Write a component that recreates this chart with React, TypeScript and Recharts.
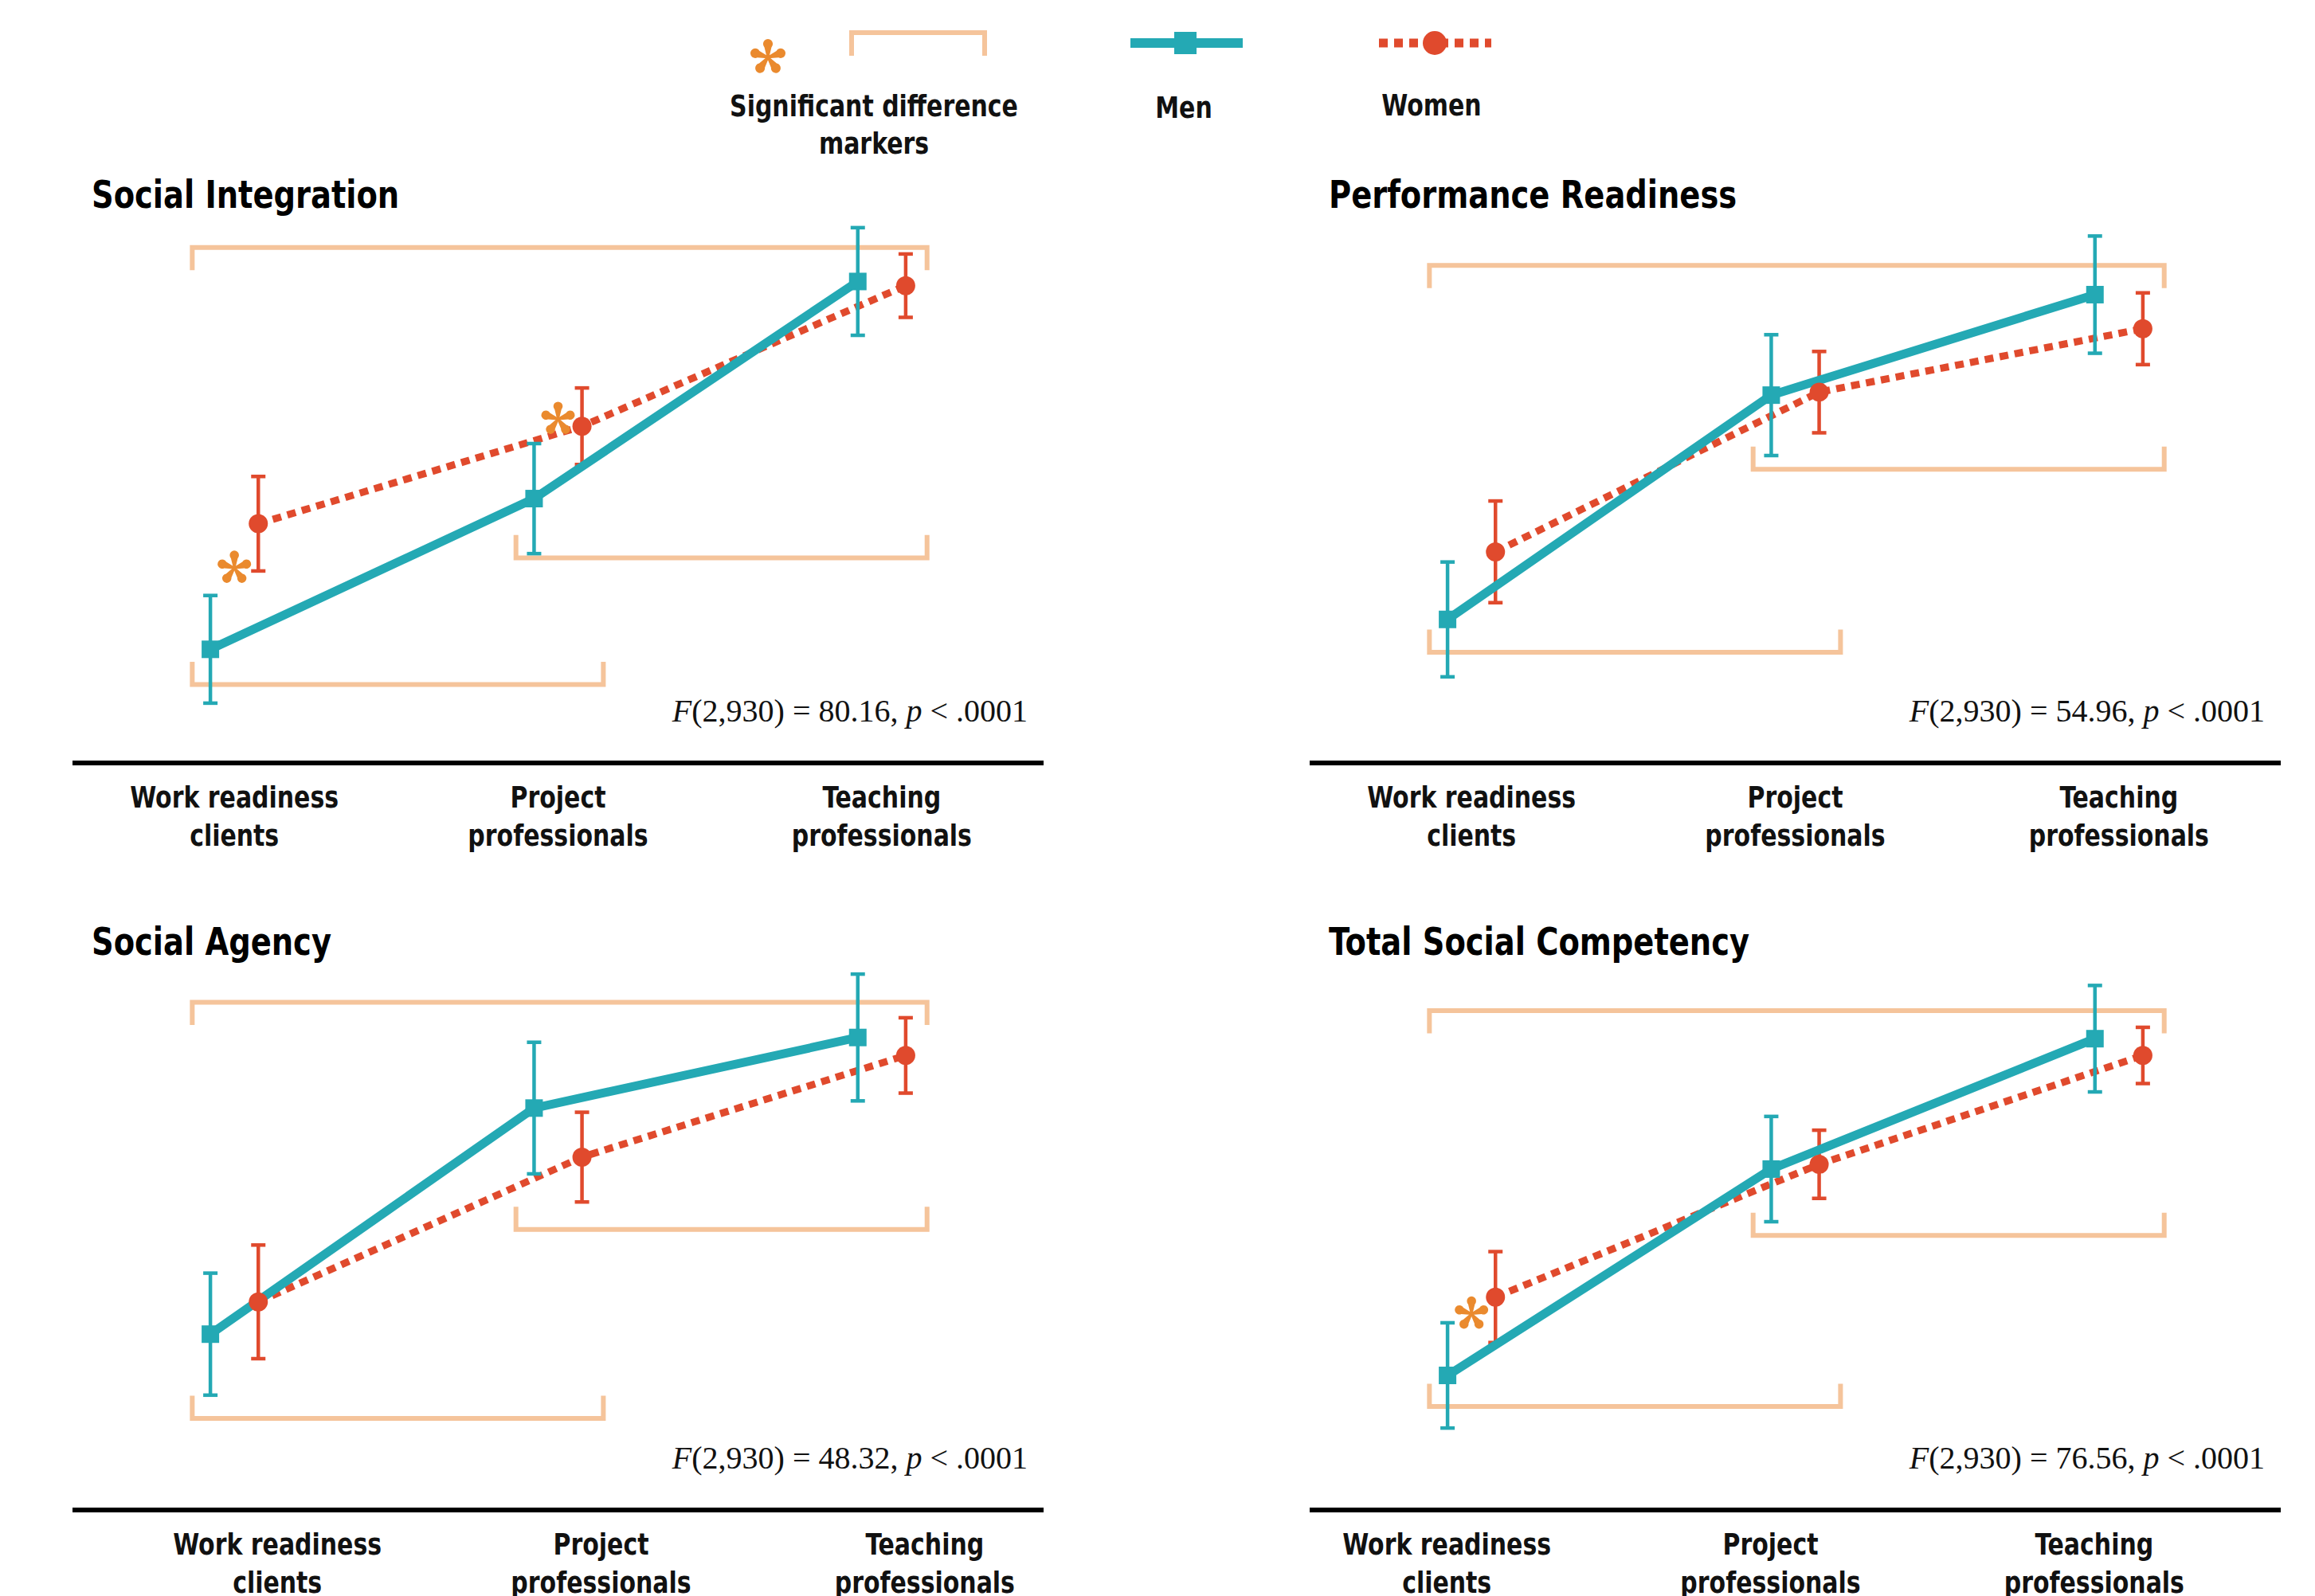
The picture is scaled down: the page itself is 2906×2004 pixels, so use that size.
import { ComposedChart, ErrorBar, Line, Scatter, XAxis, YAxis } from "recharts";

// x categories (two text lines each)
const categories = [
  ["Work readiness", "clients"],
  ["Project", "professionals"],
  ["Teaching", "professionals"],
];

// Social Integration
const siMen = [19.0, 44.2, 80.5];
const siMenErr = [9.0, 9.2, 9.0];
const siWomen = [40.0, 56.3, 79.8];
const siWomenErr = [7.9, 6.4, 5.3];
const siBrackets = [
  { from: 0, to: 2, y: 86.2, up: false },
  { from: 1, to: 2, y: 34.3, up: true },
  { from: 0, to: 1, y: 13.1, up: true },
];
const siStars = [
  { cat: 0, y: 32.6 },
  { cat: 1, y: 57.5 },
];

// Performance Readiness
const prMen = [24.0, 61.5, 78.3];
const prMenErr = [9.6, 10.1, 9.8];
const prWomen = [35.3, 62.0, 72.6];
const prWomenErr = [8.5, 6.8, 6.0];
const prBrackets = [
  { from: 0, to: 2, y: 83.2, up: false },
  { from: 1, to: 2, y: 49.1, up: true },
  { from: 0, to: 1, y: 18.5, up: true },
];

// Social Agency
const saMen = [29.4, 67.2, 79.0];
const saMenErr = [10.2, 11.0, 10.6];
const saWomen = [34.8, 59.0, 76.0];
const saWomenErr = [9.5, 7.5, 6.3];
const saBrackets = [
  { from: 0, to: 2, y: 84.9, up: false },
  { from: 1, to: 2, y: 46.9, up: true },
  { from: 0, to: 1, y: 15.3, up: true },
];

// Total Social Competency
const tscMen = [22.5, 57.0, 78.8];
const tscMenErr = [8.8, 8.8, 8.9];
const tscWomen = [35.6, 57.8, 76.0];
const tscWomenErr = [7.6, 5.7, 4.7];
const tscBrackets = [
  { from: 0, to: 2, y: 83.5, up: false },
  { from: 1, to: 2, y: 45.9, up: true },
  { from: 0, to: 1, y: 17.3, up: true },
];
const tscStars = [{ cat: 0, y: 32.8 }];

const TEAL = "#24a9b4";
const RED = "#e04a2d";
const PEACH = "#f5c49b";
const ORANGE = "#ea8a2e";
const SANS = "'Liberation Sans Narrow', 'DejaVu Sans Condensed', 'Roboto', sans-serif";
const SERIF = "'Liberation Serif', 'DejaVu Serif', serif";

const DODGE = 0.074;
const BR_L = 0.13;
const BR_R = 0.14;
const BR_TICK = 3.8;
const NARROW = 0.9;

const ML = 20, MR = 20, MT = 10, XH = 150;
const PW = 1219, PH = 751;
const CW = ML + PW + MR;
const CH = MT + PH + XH;

type Bracket = { from: number; to: number; y: number; up: boolean };
type Star = { cat: number; y: number };

const panels = [
  { title: "Social Integration", f: "80.16", men: siMen, menErr: siMenErr, women: siWomen, womenErr: siWomenErr, brackets: siBrackets, stars: siStars, left: 91, top: 207, shift: 0 },
  { title: "Performance Readiness", f: "54.96", men: prMen, menErr: prMenErr, women: prWomen, womenErr: prWomenErr, brackets: prBrackets, stars: [] as Star[], left: 1644, top: 207, shift: 0 },
  { title: "Social Agency", f: "48.32", men: saMen, menErr: saMenErr, women: saWomen, womenErr: saWomenErr, brackets: saBrackets, stars: [] as Star[], left: 91, top: 1145, shift: 54 },
  { title: "Total Social Competency", f: "76.56", men: tscMen, menErr: tscMenErr, women: tscWomen, womenErr: tscWomenErr, brackets: tscBrackets, stars: tscStars, left: 1644, top: 1145, shift: -31 },
];

// condensed bold label, squeezed horizontally around its anchor
function Cond({ x, y, size, anchor = "middle", children }: any) {
  return (
    <g transform={`translate(${x},${y}) scale(${NARROW},1)`}>
      <text x={0} y={0} textAnchor={anchor} fontFamily={SANS} fontSize={size} fontWeight="bold" fill="#111">
        {children}
      </text>
    </g>
  );
}

function Asterisk({ cx, cy, s = 1 }: { cx: number; cy: number; s?: number }) {
  const petal = "M -1.3 0 L -4.2 -12 A 5.8 5.8 0 1 1 4.2 -12 L 1.3 0 Z";
  return (
    <g transform={`translate(${cx},${cy}) scale(${s})`} fill={ORANGE}>
      {[0, 72, 144, 216, 288].map((a) => (
        <path key={a} d={petal} transform={`rotate(${a})`} />
      ))}
      <circle r={2.5} />
    </g>
  );
}

function CatTick(props: any) {
  const { x, y, payload, shift } = props;
  const lines = categories[Math.floor(payload.value)];
  const cx = x + shift;
  return (
    <g>
      <Cond x={cx} y={y + 56} size={37}>{lines[0]}</Cond>
      <Cond x={cx} y={y + 104} size={37}>{lines[1]}</Cond>
    </g>
  );
}

const Square = (props: any) => {
  const { cx, cy, index } = props;
  if (cx == null || cy == null) return <g key={`s${index}`} />;
  return <rect key={`s${index}`} x={cx - 11} y={cy - 11} width={22} height={22} fill={TEAL} />;
};

const Circle = (props: any) => {
  const { cx, cy, index } = props;
  if (cx == null || cy == null) return <g key={`c${index}`} />;
  return <circle key={`c${index}`} cx={cx} cy={cy} r={12} fill={RED} />;
};

const StarShape = (props: any) => <Asterisk cx={props.cx} cy={props.cy} />;

function Panel({ p }: { p: (typeof panels)[number] }) {
  const menData = p.men.map((v, i) => ({ x: i + 0.5 - DODGE, y: v, err: p.menErr[i] }));
  const womenData = p.women.map((v, i) => ({ x: i + 0.5 + DODGE, y: v, err: p.womenErr[i] }));
  const starData = p.stars.map((s) => ({ x: s.cat + 0.5, y: s.y }));
  const bracketData = (p.brackets as Bracket[]).map((b) => {
    const a = b.from + 0.5 - BR_L;
    const c = b.to + 0.5 + BR_R;
    const e = b.up ? b.y + BR_TICK : b.y - BR_TICK;
    return [
      { x: a, y: e },
      { x: a, y: b.y },
      { x: c, y: b.y },
      { x: c, y: e },
    ];
  });

  return (
    <div style={{ position: "absolute", left: p.left - ML, top: p.top - MT, width: CW, height: CH }}>
      <ComposedChart width={CW} height={CH} margin={{ top: MT, right: MR, bottom: 0, left: ML }}>
        <XAxis
          type="number"
          dataKey="x"
          domain={[0, 3]}
          ticks={[0.5, 1.5, 2.5]}
          interval={0}
          allowDataOverflow
          tickLine={false}
          tickSize={0}
          tickMargin={0}
          height={XH}
          axisLine={{ stroke: "#000", strokeWidth: 6 }}
          tick={(t: any) => <CatTick {...t} shift={p.shift} />}
        />
        <YAxis
          type="number"
          domain={[0, 100]}
          allowDataOverflow
          width={0}
          tick={false}
          tickLine={false}
          axisLine={{ stroke: "#000", strokeWidth: 4 }}
        />
        {bracketData.map((d, i) => (
          <Line
            key={`b${i}`}
            data={d}
            dataKey="y"
            stroke={PEACH}
            strokeWidth={6}
            strokeLinejoin="miter"
            dot={false}
            activeDot={false}
            isAnimationActive={false}
          />
        ))}
        <Line
          data={womenData}
          dataKey="y"
          stroke={RED}
          strokeWidth={9}
          strokeDasharray="11 8"
          dot={Circle}
          activeDot={false}
          isAnimationActive={false}
        >
          <ErrorBar dataKey="err" direction="y" width={9} strokeWidth={4.5} stroke={RED} />
        </Line>
        <Line
          data={menData}
          dataKey="y"
          stroke={TEAL}
          strokeWidth={11}
          dot={Square}
          activeDot={false}
          isAnimationActive={false}
        >
          <ErrorBar dataKey="err" direction="y" width={9} strokeWidth={4.5} stroke={TEAL} />
        </Line>
        <Scatter data={starData} dataKey="y" shape={StarShape} isAnimationActive={false} />
      </ComposedChart>
      <svg width={CW} height={CH} style={{ position: "absolute", left: 0, top: 0, pointerEvents: "none" }}>
        <g transform={`translate(${ML + 24},${MT + 54}) scale(0.89,1)`}>
          <text x={0} y={0} fontFamily={SANS} fontSize={48} fontWeight="bold" fill="#000">
            {p.title}
          </text>
        </g>
        <text x={ML + PW - 20} y={MT + PH - 52} textAnchor="end" fontFamily={SERIF} fontSize={40} fill="#111">
          <tspan fontStyle="italic">F</tspan>
          <tspan>{`(2,930) = ${p.f}, `}</tspan>
          <tspan fontStyle="italic">p</tspan>
          <tspan>{" < .0001"}</tspan>
        </text>
      </svg>
    </div>
  );
}

function Legend() {
  return (
    <svg width={2906} height={220} style={{ position: "absolute", left: 0, top: 0 }}>
      <Asterisk cx={964} cy={72} s={1.05} />
      <polyline points="1069,70 1069,41 1236,41 1236,70" fill="none" stroke={PEACH} strokeWidth={6} />
      <line x1={1419} y1={54} x2={1560} y2={54} stroke={TEAL} strokeWidth={12} />
      <rect x={1474} y={40} width={28} height={28} fill={TEAL} />
      <line x1={1731} y1={54} x2={1872} y2={54} stroke={RED} strokeWidth={11} strokeDasharray="11 8" />
      <circle cx={1801} cy={54} r={15} fill={RED} />
      <Cond x={1097} y={146} size={37}>Significant difference</Cond>
      <Cond x={1097} y={193} size={37}>markers</Cond>
      <Cond x={1486} y={148} size={37}>Men</Cond>
      <Cond x={1797} y={145} size={37}>Women</Cond>
    </svg>
  );
}

export default function App() {
  return (
    <div style={{ position: "absolute", left: 0, top: 0, width: 2906, height: 2004, background: "#fff", overflow: "hidden" }}>
      <Legend />
      {panels.map((p) => (
        <Panel key={p.title} p={p} />
      ))}
    </div>
  );
}
